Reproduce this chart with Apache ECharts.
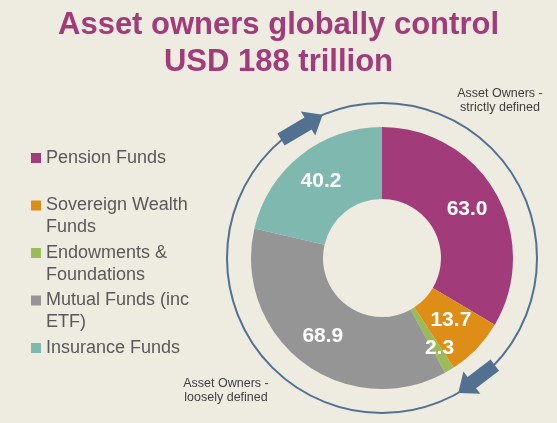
<!DOCTYPE html>
<html>
<head>
<meta charset="utf-8">
<script src="https://cdn.jsdelivr.net/npm/echarts@6/dist/echarts.min.js"></script>
<style>
html,body{margin:0;padding:0;background:#EEEBE1;}
#chart{width:557px;height:423px;}
</style>
</head>
<body>
<div id="chart"></div>
<script>
// ---- data ----
const categories = ['Pension Funds', 'Sovereign Wealth Funds', 'Endowments & Foundations', 'Mutual Funds (inc ETF)', 'Insurance Funds'];
const values = [63.0, 13.7, 2.3, 68.9, 40.2];
const legendLines = [['Pension Funds', ''], ['Sovereign Wealth', 'Funds'], ['Endowments &', 'Foundations'], ['Mutual Funds (inc', 'ETF)'], ['Insurance Funds', '']];
const colors = ['#A13B79', '#DE8D16', '#9BBB59', '#959595', '#7FB8AF'];
const titleText = 'Asset owners globally control\nUSD 188 trillion';
const noteStrict = 'Asset Owners -\nstrictly defined';
const noteLoose = 'Asset Owners -\nloosely defined';

// ---- layout ----
const CX = 382, CY = 258, R_IN = 59, R_OUT = 131, R_RING = 155;
const ringColor = '#527191';
const labelOffsets = [[0, 0], [-2, -5], [7, 6], [0, 0], [0, 0]];

function polar(r, deg) {
  const a = deg * Math.PI / 180;
  return [CX + r * Math.sin(a), CY - r * Math.cos(a)];
}
function arrow(tailDeg, tipDeg) {
  const T = polar(R_RING, tailDeg), P = polar(R_RING, tipDeg);
  const dx = P[0] - T[0], dy = P[1] - T[1];
  const L = Math.hypot(dx, dy);
  const ux = dx / L, uy = dy / L, nx = -uy, ny = ux;
  const bw = 7, hw = 14, hl = 17;
  const H = [P[0] - ux * hl, P[1] - uy * hl];
  const T2 = [T[0] - ux * 4, T[1] - uy * 4];
  const pts = [
    [T2[0] + nx * bw, T2[1] + ny * bw],
    [H[0] + nx * bw, H[1] + ny * bw],
    [H[0] + nx * hw, H[1] + ny * hw],
    P,
    [H[0] - nx * hw, H[1] - ny * hw],
    [H[0] - nx * bw, H[1] - ny * bw],
    [T2[0] - nx * bw, T2[1] - ny * bw]
  ];
  return { type: 'polygon', shape: { points: pts }, style: { fill: ringColor }, z: 10 };
}

const chart = echarts.init(document.getElementById('chart'));
chart.setOption({
  backgroundColor: '#EEEBE1',
  animation: false,
  color: colors,
  title: {
    text: titleText,
    left: 'center',
    top: 2,
    textStyle: { fontFamily: 'Liberation Sans, Arial, sans-serif', fontSize: 31, fontWeight: 'bold', color: '#A13B79', lineHeight: 37 }
  },
  legend: {
    orient: 'vertical',
    left: 31,
    top: 125,
    padding: 0,
    itemWidth: 10,
    itemHeight: 10,
    itemGap: -18.5,
    icon: 'rect',
    data: categories,
    formatter: function (name) {
      const i = categories.indexOf(name);
      return '\n' + legendLines[i][0] + '\n' + legendLines[i][1];
    },
    textStyle: { fontFamily: 'Liberation Sans, Arial, sans-serif', fontSize: 18, color: '#595959', lineHeight: 22 }
  },
  graphic: [
    { type: 'circle', shape: { cx: CX, cy: CY, r: R_RING }, style: { fill: 'none', stroke: ringColor, lineWidth: 2 }, z: 5 },
    arrow(321, 337.5),
    arrow(135, 150.5),
    { type: 'text', x: 500, y: 101, style: { text: noteStrict, align: 'center', verticalAlign: 'middle', fontFamily: 'Liberation Sans, Arial, sans-serif', fontSize: 12.5, lineHeight: 14, fill: '#404040' } },
    { type: 'text', x: 226, y: 391, style: { text: noteLoose, align: 'center', verticalAlign: 'middle', fontFamily: 'Liberation Sans, Arial, sans-serif', fontSize: 12.5, lineHeight: 14, fill: '#404040' } }
  ],
  series: [{
    type: 'pie',
    center: [CX, CY],
    radius: [R_IN, R_OUT],
    startAngle: 90,
    clockwise: true,
    avoidLabelOverlap: false,
    minShowLabelAngle: 0,
    labelLayout: { hideOverlap: false },
    itemStyle: { borderWidth: 0 },
    label: {
      show: true,
      position: 'inside',
      formatter: function (p) { return p.value.toFixed(1); },
      color: '#FFFFFF',
      fontFamily: 'Liberation Sans, Arial, sans-serif',
      fontSize: 21,
      fontWeight: 'bold',
      overflow: 'none'
    },
    labelLine: { show: false },
    emphasis: { disabled: true },
    data: categories.map(function (c, i) {
      return { name: c, value: values[i], label: { offset: labelOffsets[i] } };
    })
  }]
});
</script>
</body>
</html>
